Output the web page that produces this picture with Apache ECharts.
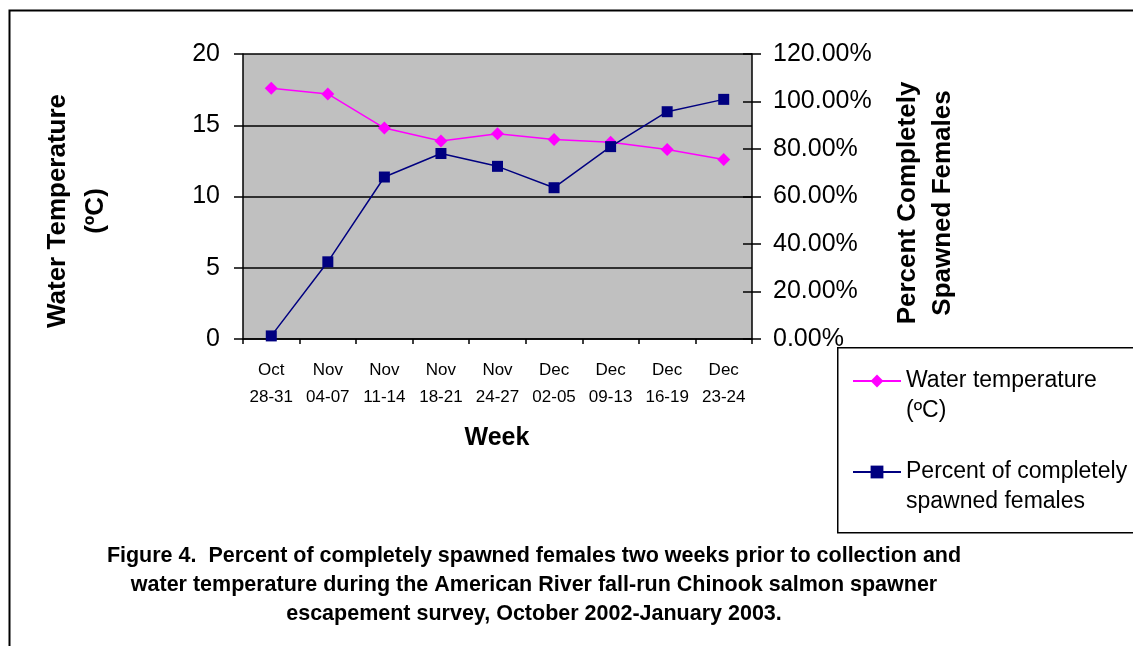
<!DOCTYPE html>
<html><head><meta charset="utf-8">
<script src="https://cdn.jsdelivr.net/npm/echarts@6/dist/echarts.min.js"></script>
<style>html,body{margin:0;padding:0;background:#fff}#c{width:1133px;height:646px}</style>
</head><body><div id="c"></div>
<script>
var weeks = ['Oct\n28-31','Nov\n04-07','Nov\n11-14','Nov\n18-21','Nov\n24-27','Dec\n02-05','Dec\n09-13','Dec\n16-19','Dec\n23-24'];
var waterTemp = [17.6, 17.2, 14.8, 13.9, 14.4, 14.0, 13.8, 13.3, 12.6];
var percentSpawned = [1.3, 32.5, 68.2, 78.1, 72.7, 63.7, 81.0, 95.7, 100.9];
var tempTicks = [0, 20, 5];
var pctTicks = [0, 120, 20];

var FONT = 'Liberation Sans, Arial, sans-serif';
var chart = echarts.init(document.getElementById('c'));
chart.setOption({
  animation: false,
  textStyle: {fontFamily: FONT},
  grid: {left: 243, right: 381, top: 54, bottom: 307, show: true, backgroundColor: '#C0C0C0', borderWidth: 0},
  xAxis: {
    type: 'category', data: weeks, boundaryGap: true,
    axisLine: {lineStyle: {color: '#000', width: 1.5}},
    axisTick: {show: true, length: 5, lineStyle: {color: '#000', width: 1.5}},
    axisLabel: {color: '#000', fontSize: 17, lineHeight: 27, margin: 18, fontFamily: FONT, interval: 0}
  },
  yAxis: [{
    type: 'value', min: tempTicks[0], max: tempTicks[1], interval: tempTicks[2], position: 'left',
    axisLine: {show: true, lineStyle: {color: '#000', width: 1.5}},
    axisTick: {show: true, length: 9, lineStyle: {color: '#000', width: 1.5}},
    splitLine: {show: true, lineStyle: {color: '#000', width: 1.5}},
    axisLabel: {color: '#000', fontSize: 25, margin: 23, fontFamily: FONT}
  }, {
    type: 'value', min: pctTicks[0], max: pctTicks[1], interval: pctTicks[2], position: 'right',
    axisLine: {show: true, lineStyle: {color: '#000', width: 1.5}},
    axisTick: {show: true, length: 9, lineStyle: {color: '#000', width: 1.5}},
    splitLine: {show: false},
    axisLabel: {color: '#000', fontSize: 25, margin: 21, fontFamily: FONT,
      formatter: function (v) { return v.toFixed(2) + '%'; }}
  }, {
    type: 'value', min: pctTicks[0], max: pctTicks[1], interval: pctTicks[2], position: 'right',
    axisLine: {show: false},
    axisTick: {show: true, inside: true, length: 9, lineStyle: {color: '#000', width: 1.5}},
    splitLine: {show: false},
    axisLabel: {show: false}
  }],
  legend: {
    left: 852, top: 336, padding: 0, orient: 'vertical', itemGap: 1, itemWidth: 48, itemHeight: 16,
    textStyle: {color: '#000', fontSize: 23, lineHeight: 30, fontFamily: FONT},
    formatter: function (n) {
      return n === 'Water temperature (ºC)' ? ' \nWater temperature\n(ºC)' : ' \nPercent of completely\nspawned females';
    },
    data: ['Water temperature (ºC)', 'Percent of completely spawned females']
  },
  graphic: [
    {type: 'rect', left: 7, top: 8, shape: {width: 1200, height: 700}, style: {fill: 'none', stroke: '#000', lineWidth: 2}, z: -10},
    {type: 'rect', left: 837, top: 347, shape: {width: 320, height: 185}, style: {fill: '#fff', stroke: '#000', lineWidth: 1.5}, z: -5},
    {type: 'text', x: 77, y: 211, rotation: Math.PI / 2, style: {text: 'Water Temperature\n(ºC)', fill: '#000', font: 'bold 26px ' + FONT, textAlign: 'center', textVerticalAlign: 'middle', lineHeight: 38}},
    {type: 'text', x: 925, y: 203, rotation: Math.PI / 2, style: {text: 'Percent Completely\nSpawned Females', fill: '#000', font: 'bold 26px ' + FONT, textAlign: 'center', textVerticalAlign: 'middle', lineHeight: 35}},
    {type: 'text', x: 497, y: 438, style: {text: 'Week', fill: '#000', font: 'bold 25px ' + FONT, textAlign: 'center', textVerticalAlign: 'middle'}},
    {type: 'text', x: 534, y: 585, style: {text: 'Figure 4.  Percent of completely spawned females two weeks prior to collection and\nwater temperature during the American River fall-run Chinook salmon spawner\nescapement survey, October 2002-January 2003.', fill: '#000', font: 'bold 21.5px ' + FONT, textAlign: 'center', textVerticalAlign: 'middle', lineHeight: 29}}
  ],
  series: [{
    name: 'Water temperature (ºC)', type: 'line', yAxisIndex: 0, data: waterTemp,
    symbol: 'diamond', symbolSize: 13,
    lineStyle: {color: '#FF00FF', width: 1.5}, itemStyle: {color: '#FF00FF'}, z: 3
  }, {
    name: 'Percent of completely spawned females', type: 'line', yAxisIndex: 1, data: percentSpawned,
    symbol: 'rect', symbolSize: 11,
    lineStyle: {color: '#000080', width: 1.5}, itemStyle: {color: '#000080'}, z: 4
  }]
});
</script></body></html>
